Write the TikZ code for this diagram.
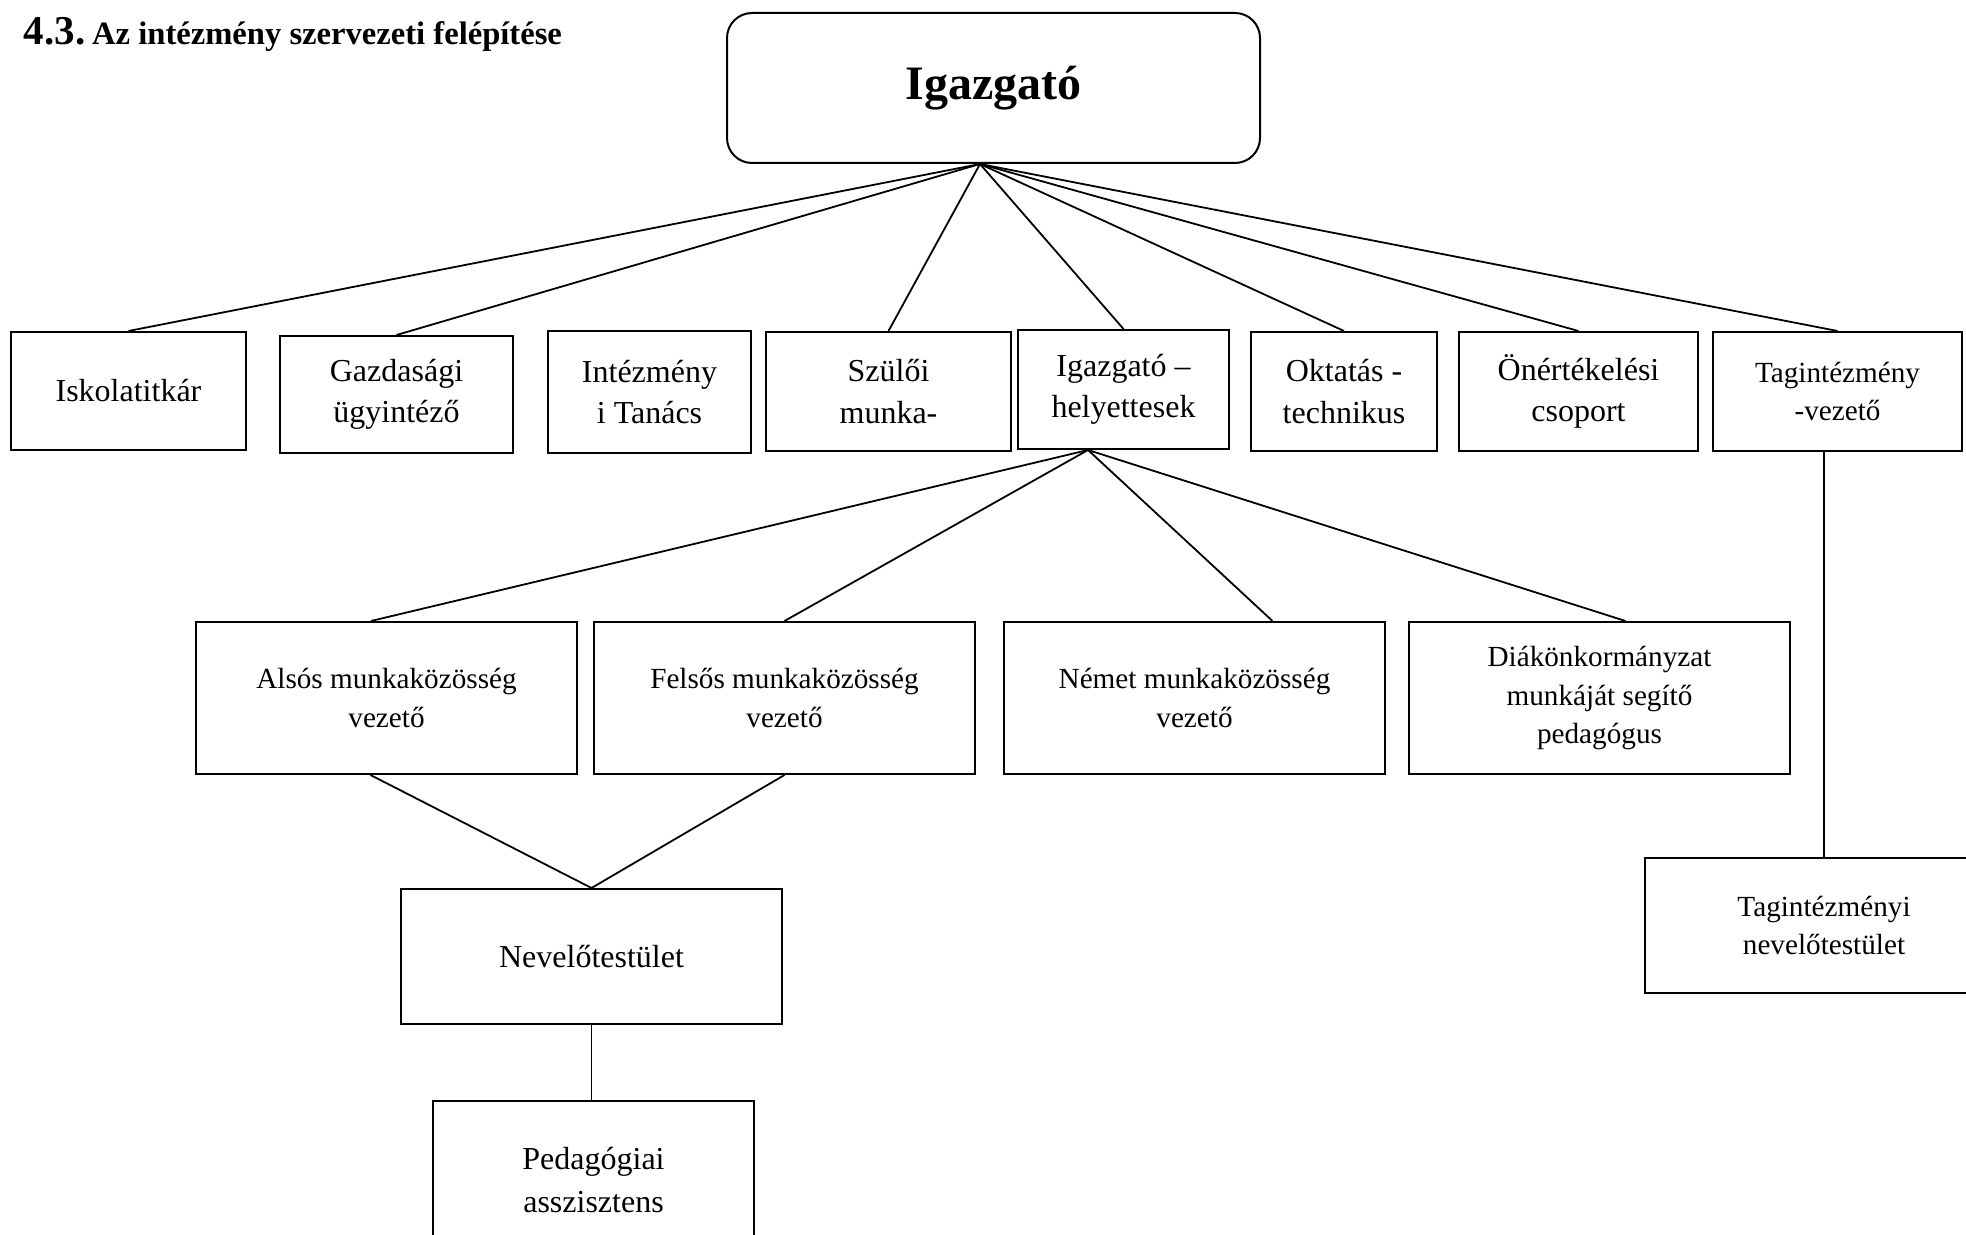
\documentclass[tikz,border=0pt]{standalone}
\usepackage{fontspec}
\setmainfont{Liberation Serif}
\begin{document}
\begin{tikzpicture}[x=0.5pt,y=-0.5pt,
                every node/.style = {draw, line width=1pt, align=center, inner sep=0pt},
                unit/.style = {font=\fontsize{16}{20.7}\selectfont, minimum height=59.5pt},
                subunit/.style = {font=\fontsize{14.6}{19.2}\selectfont},
                group/.style = {subunit, minimum width=190.5pt, minimum height=76pt},
                link/.style = {line width=0.9pt}
            ]
            \useasboundingbox (0,0) rectangle (1966,1235);
            \node[draw=none, anchor=base west, font=\bfseries] (title) at (23,45)
                {{\fontsize{20.5}{24}\selectfont 4.3.} {\fontsize{16.3}{20}\selectfont Az intézmény szervezeti felépítése}};
            \node[rounded corners=12.5pt, minimum width=266.5pt, minimum height=75pt,
                  font=\fontsize{24}{28}\selectfont\bfseries] (igazgato) at (993.5,88) {Igazgató};

            \node[unit, minimum width=117.5pt, minimum height=59pt] (titkar) at (128.5,391) {Iskolatitkár};
            \node[unit, minimum width=116.5pt, minimum height=58.5pt] (gazdasagi) at (396.5,394.5) {Gazdasági\\ügyintéző};
            \node[unit, minimum width=101.5pt, minimum height=61pt] (tanacs) at (649.5,392) {Intézmény\\i Tanács};
            \node[unit, minimum width=122.5pt] (szuloi) at (888.5,391.5) {Szülői\\munka-};
            \node[unit, minimum width=105.5pt] (helyettes) at (1123.5,389.5) {Igazgató –\\helyettesek};
            \node[unit, minimum width=93pt] (technikus) at (1344,391.5) {Oktatás -\\technikus};
            \node[unit, minimum width=119.5pt] (onert) at (1578.5,391.5) {Önértékelési\\csoport};
            \node[subunit, minimum width=124.5pt, minimum height=59.5pt] (tagvez) at (1837.5,391.5) {Tagintézmény\\-vezető};

            \node[group] (also) at (386.5,698) {Alsós munkaközösség\\vezető};
            \node[group] (felso) at (784.5,698) {Felsős munkaközösség\\vezető};
            \node[group] (nemet) at (1194.5,698) {Német munkaközösség\\vezető};
            \node[group] (diak) at (1599.5,698) {Diákönkormányzat\\munkáját segítő\\pedagógus};

            \node[unit, minimum width=190.5pt, minimum height=67.5pt] (nevelo) at (591.5,956.5) {Nevelőtestület};
            \node[font=\fontsize{16}{21.3}\selectfont, minimum width=160.5pt, minimum height=79pt] (asszisztens) at (593.5,1180) {Pedagógiai\\asszisztens};
            \node[subunit, minimum width=179pt, minimum height=67.5pt] (tagnev) at (1824,925.5) {Tagintézményi\\nevelőtestület};

            \coordinate (igfoot) at ([xshift=-6.75pt]igazgato.south);
            \foreach \n in {titkar,gazdasagi,szuloi,helyettes,technikus,onert,tagvez}
                \draw[link] (igfoot) -- (\n.north);

            \coordinate (hfoot) at ([xshift=-17.75pt]helyettes.south);
            \draw[link] (hfoot) -- ([xshift=-7.75pt]also.north);
            \draw[link] (hfoot) -- (felso.north);
            \draw[link] (hfoot) -- ([xshift=39pt]nemet.north);
            \draw[link] (hfoot) -- ([xshift=13pt]diak.north);

            \draw[link] ([xshift=-8pt]also.south) -- (nevelo.north);
            \draw[link] (felso.south) -- (nevelo.north);
            \draw[link] (nevelo.south) -- (asszisztens.north -| nevelo.south);
            \draw[link] (tagvez.south -| tagnev.north) -- (tagnev.north);
        \end{tikzpicture}
\end{document}
